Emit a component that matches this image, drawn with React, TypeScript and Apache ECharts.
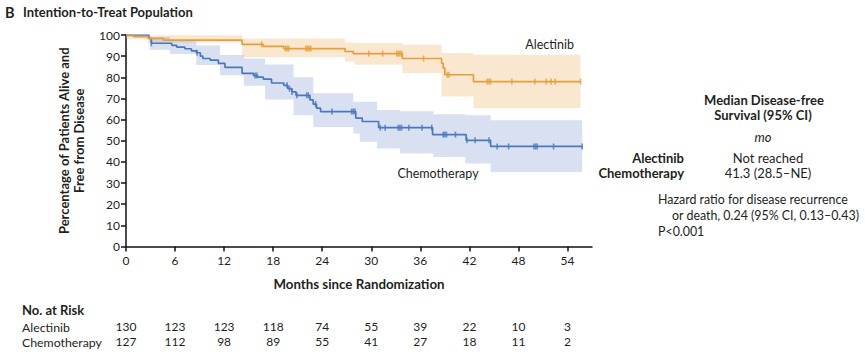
import React, { useEffect, useRef } from "react";
import * as echarts from "echarts";

// ---- Data ----
const MONTH_TICKS = [0, 6, 12, 18, 24, 30, 36, 42, 48, 54];
const riskAlectinib = [130, 123, 123, 118, 74, 55, 39, 22, 10, 3];
const riskChemo = [127, 112, 98, 89, 55, 41, 27, 18, 11, 2];

const alecTimes = [0, 0.9, 2.7, 4.6, 14.2, 16.8, 19.3, 26.8, 27.8, 33.8, 38.6, 38.8, 39.0, 42.5, 55.6];
const alecSurv = [100, 99.2, 98.4, 97.6, 95.6, 94.6, 93.6, 92.2, 91.2, 88.9, 86.6, 84.3, 81.2, 78.0, 78.0];
const alecCensor = [16.6, 19.5, 19.7, 19.9, 22.0, 22.2, 22.4, 22.6, 29.7, 31.4, 33.1, 33.3, 33.5, 33.7, 36.4, 39.3, 39.5, 44.2, 44.4, 44.6, 47.2, 50.0, 51.4, 52.0, 52.5, 55.6];
const alecBandTimes = [0, 2.7, 14.2, 26.8, 28.0, 33.8, 38.6, 42.5, 55.6];
const alecBandUpper = [100, 99.9, 98.3, 96.5, 96.2, 95.4, 91.5, 90.7];
const alecBandLower = [98.0, 96.5, 89.5, 87.5, 85.9, 82.0, 70.9, 65.4];

const chemoTimes = [0, 2.8, 3.1, 5.6, 6.2, 7.2, 8.0, 8.6, 9.1, 9.4, 10.3, 11.3, 12.1, 14.2, 15.6, 16.1, 16.8, 17.8, 19.3, 19.8, 20.3, 20.8, 22.5, 22.9, 23.3, 23.8, 28.1, 28.9, 30.9, 37.5, 41.6, 44.6, 55.8];
const chemoSurv = [100, 98.4, 96.1, 95.1, 94.3, 93.5, 92.5, 91.6, 90.0, 88.9, 88.1, 86.6, 84.7, 81.9, 80.8, 80.1, 79.1, 77.3, 76.2, 74.6, 73.1, 71.5, 69.3, 67.3, 65.4, 63.8, 60.7, 59.1, 56.2, 52.9, 50.2, 47.3, 47.3];
const chemoCensor = [3.1, 8.7, 15.8, 16.0, 19.7, 20.0, 20.3, 20.9, 22.1, 22.3, 23.2, 25.2, 27.6, 27.8, 28.0, 31.1, 31.7, 33.3, 33.5, 33.7, 34.6, 36.2, 37.4, 38.8, 39.0, 39.2, 40.3, 41.7, 42.7, 44.4, 45.4, 46.8, 49.9, 50.1, 50.3, 52.3, 55.8];
const chemoBandTimes = [0, 2.9, 5.4, 8.6, 11.5, 14.4, 17.0, 20.5, 22.9, 27.8, 28.6, 30.7, 33.5, 37.6, 41.5, 44.6, 55.8];
const chemoBandUpper = [100, 99, 97.5, 95, 90.5, 88.9, 86, 80, 72.5, 68.4, 68.4, 64.5, 64, 62.5, 62, 59.7];
const chemoBandLower = [99, 93, 91, 85.8, 81, 76, 69.5, 62, 56.5, 53.4, 49.5, 46.3, 44, 42.3, 39.2, 35.2];

// ---- Styling ----
const FONT = "Lato, 'Open Sans', sans-serif";
const TXT = "#231f20";
const ORANGE = "#E69F3A";
const BLUE = "#4A78C0";
const ORANGE_BAND = "rgba(236,165,80,0.27)";
const BLUE_BAND = "rgba(100,130,200,0.25)";

function stepValue(times: number[], vals: number[], t: number) {
  let v = vals[0];
  for (let i = 0; i < times.length; i++) if (times[i] <= t) v = vals[i];
  return v;
}

function bandSeries(times: number[], lower: number[], upper: number[], color: string) {
  return {
    type: "custom",
    coordinateSystem: "cartesian2d",
    data: [[times[0], upper[0]]],
    encode: { x: 0, y: 1 },
    silent: true,
    z: 1,
    renderItem: (params: any, api: any) => {
      if (params.dataIndex !== 0) return null;
      const pts: number[][] = [];
      for (let i = 0; i < upper.length; i++) {
        pts.push(api.coord([times[i], upper[i]]));
        pts.push(api.coord([times[i + 1], upper[i]]));
      }
      for (let i = lower.length - 1; i >= 0; i--) {
        pts.push(api.coord([times[i + 1], lower[i]]));
        pts.push(api.coord([times[i], lower[i]]));
      }
      return { type: "polygon", shape: { points: pts }, style: { fill: color } };
    },
  };
}

function curveSeries(times: number[], vals: number[], color: string) {
  return {
    type: "line",
    step: "end",
    data: times.map((t, i) => [t, vals[i]]),
    showSymbol: false,
    lineStyle: { color, width: 1.7 },
    z: 3,
    silent: true,
  };
}

function censorSeries(times: number[], cTimes: number[], vals: number[], color: string) {
  return {
    type: "scatter",
    data: cTimes.map((t) => [t, stepValue(times, vals, t)]),
    symbol: "rect",
    symbolSize: [1.6, 6],
    itemStyle: { color },
    z: 4,
    silent: true,
  };
}

function riskAxis(values: number[], offset: number) {
  return {
    type: "value",
    gridIndex: 0,
    min: 0,
    max: 57,
    interval: 6,
    position: "bottom",
    offset,
    axisLine: { show: false },
    axisTick: { show: false },
    splitLine: { show: false },
    axisLabel: {
      customValues: MONTH_TICKS,
      fontFamily: FONT,
      fontSize: 12,
      color: TXT,
      margin: 8,
      formatter: (v: number) => {
        const idx = MONTH_TICKS.indexOf(v);
        return idx >= 0 ? String(values[idx]) : "";
      },
    },
  };
}

const t = (text: string, x: number, y: number, opts: any = {}) => ({
  type: "text",
  x,
  y,
  silent: true,
  style: {
    text,
    fontFamily: FONT,
    fontSize: opts.size || 13,
    fontWeight: opts.bold ? "bold" : "normal",
    fontStyle: opts.italic ? "italic" : "normal",
    fill: TXT,
    align: opts.align || "left",
    verticalAlign: "middle",
  },
});

export default function App() {
  const ref = useRef<HTMLDivElement>(null);
  useEffect(() => {
    if (!ref.current) return;
    const chart = echarts.init(ref.current, null, { renderer: "svg" });
    const axisLineStyle = { color: "#111", width: 1.5 };
    chart.setOption({
      animation: false,
      backgroundColor: "#fff",
      grid: { left: 126, right: 273, top: 35, bottom: 114.5, containLabel: false },
      xAxis: [
        {
          type: "value",
          min: 0,
          max: 57,
          interval: 6,
          axisLine: { show: true, lineStyle: axisLineStyle },
          axisTick: { show: true, length: 5, customValues: MONTH_TICKS, lineStyle: axisLineStyle },
          splitLine: { show: false },
          axisLabel: { customValues: MONTH_TICKS, fontFamily: FONT, fontSize: 12, color: TXT, margin: 8 },
          name: "Months since Randomization",
          nameLocation: "middle",
          nameGap: 31,
          nameTextStyle: { fontFamily: FONT, fontSize: 13.3, fontWeight: "bold", color: TXT },
        },
        riskAxis(riskAlectinib, 66),
        riskAxis(riskChemo, 81),
      ],
      yAxis: {
        type: "value",
        min: 0,
        max: 100,
        interval: 10,
        axisLine: { show: true, lineStyle: axisLineStyle },
        axisTick: { show: true, length: 5, lineStyle: axisLineStyle },
        splitLine: { show: false },
        axisLabel: { fontFamily: FONT, fontSize: 12, color: TXT, margin: 6 },
        name: "Percentage of Patients Alive and\nFree from Disease",
        nameLocation: "middle",
        nameGap: 40,
        nameTextStyle: { fontFamily: FONT, fontSize: 13, fontWeight: "bold", color: TXT, lineHeight: 15 },
      },
      series: [
        bandSeries(alecBandTimes, alecBandLower, alecBandUpper, ORANGE_BAND),
        bandSeries(chemoBandTimes, chemoBandLower, chemoBandUpper, BLUE_BAND),
        curveSeries(chemoTimes, chemoSurv, BLUE),
        curveSeries(alecTimes, alecSurv, ORANGE),
        censorSeries(chemoTimes, chemoCensor, chemoSurv, BLUE),
        censorSeries(alecTimes, alecCensor, alecSurv, ORANGE),
      ],
      graphic: [
        t("B", 5, 12, { bold: true, size: 14.5 }),
        t("Intention-to-Treat Population", 23, 12, { bold: true, size: 13 }),
        t("Alectinib", 574, 44, { align: "right", size: 12.5 }),
        t("Chemotherapy", 438, 173, { align: "center", size: 12.5 }),
        t("Median Disease-free", 764, 100, { align: "center", bold: true }),
        t("Survival (95% CI)", 763, 115, { align: "center", bold: true }),
        t("mo", 763, 137, { align: "center", italic: true }),
        t("Alectinib", 684, 158, { align: "right", bold: true }),
        t("Chemotherapy", 684, 173, { align: "right", bold: true }),
        t("Not reached", 768, 158, { align: "center" }),
        t("41.3 (28.5\u2013NE)", 768, 173, { align: "center" }),
        t("Hazard ratio for disease recurrence", 658, 199, { size: 12.4 }),
        t("or death, 0.24 (95% CI, 0.13\u20130.43)", 672, 215, { size: 12.4 }),
        t("P<0.001", 658, 231, { size: 12.4 }),
        t("No. at Risk", 22, 310, { bold: true, size: 13 }),
        t("Alectinib", 22, 327, { size: 12.3 }),
        t("Chemotherapy", 22, 342, { size: 12.3 }),
      ],
    });
    return () => chart.dispose();
  }, []);
  return (
    <div
      ref={ref}
      style={{ position: "fixed", left: 0, top: 0, width: 865, height: 361, background: "#fff" }}
    />
  );
}
